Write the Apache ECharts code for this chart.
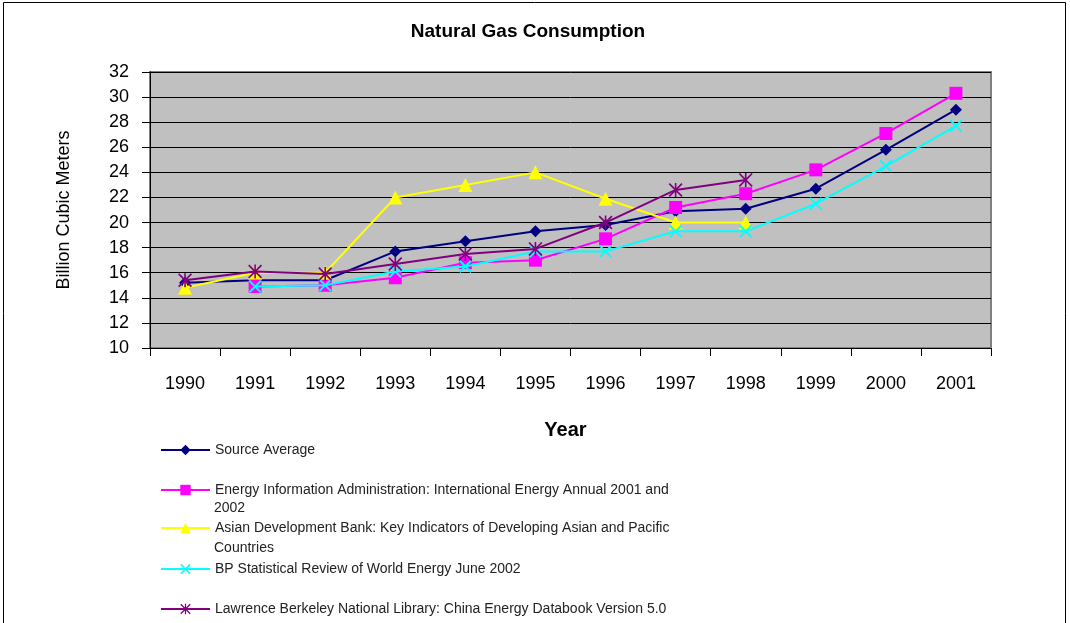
<!DOCTYPE html>
<html>
<head>
<meta charset="utf-8">
<script src="https://cdn.jsdelivr.net/npm/echarts@6/dist/echarts.min.js"></script>
<style>
html,body{margin:0;padding:0;background:#fff;}
#chart{width:1070px;height:623px;}
</style>
</head>
<body>
<div id="chart"></div>
<script>
// ---- data ----
const years = ['1990','1991','1992','1993','1994','1995','1996','1997','1998','1999','2000','2001'];
const sourceAverage = [15.2, 15.4, 15.4, 17.7, 18.5, 19.3, 19.8, 20.9, 21.1, 22.7, 25.8, 29.0];
const eiaValues     = [null, 14.9, 15.0, 15.6, 16.8, 17.0, 18.7, 21.2, 22.3, 24.2, 27.1, 30.3];
const adbValues     = [14.8, 16.0, 16.0, 22.0, 23.0, 24.0, 21.9, 20.0, 20.0, null, null, null];
const bpValues      = [null, 14.9, 15.0, 16.1, 16.5, 17.7, 17.7, 19.3, 19.3, 21.5, 24.5, 27.7];
const lblValues     = [15.4, 16.1, 15.9, 16.7, 17.5, 17.9, 20.0, 22.6, 23.4, null, null, null];
const yMin = 10, yMax = 32, yStep = 2;

const seriesNames = [
  'Source Average',
  'Energy Information Administration: International Energy Annual 2001 and 2002',
  'Asian Development Bank: Key Indicators of Developing Asian and Pacific Countries',
  'BP Statistical Review of World Energy June 2002',
  'Lawrence Berkeley National Library: China Energy Databook Version 5.0'
];
const legendLines = [
  ['Source Average'],
  ['Energy Information Administration: International Energy Annual 2001 and', '2002'],
  ['Asian Development Bank: Key Indicators of Developing Asian and Pacific', 'Countries'],
  ['BP Statistical Review of World Energy June 2002'],
  ['Lawrence Berkeley National Library: China Energy Databook Version 5.0']
];

// ---- styles ----
const FONT = '"Liberation Sans", Arial, sans-serif';
const colors = ['#000080', '#FF00FF', '#FFFF00', '#00FFFF', '#800080'];
const xPath = 'path://M0,1.5 L1.5,0 L7,5.5 L12.5,0 L14,1.5 L8.5,7 L14,12.5 L12.5,14 L7,8.5 L1.5,14 L0,12.5 L5.5,7 Z';
const starPath = 'path://M0,1.2 L1.2,0 L7,5.8 L12.8,0 L14,1.2 L8.2,7 L14,12.8 L12.8,14 L7,8.2 L1.2,14 L0,12.8 L5.8,7 Z M6.2,0 L7.8,0 L7.8,14 L6.2,14 Z';
const symbols = ['diamond', 'rect', 'triangle', xPath, starPath];
const symbolSizes = [12, 13, 14, 13, 14];
const dataSets = [sourceAverage, eiaValues, adbValues, bpValues, lblValues];
const legendCenters = [450, 490, 528, 569, 609];
const contLineY = {1: 508, 2: 548};

const chart = echarts.init(document.getElementById('chart'));

const series = dataSets.map((d, i) => ({
  name: seriesNames[i],
  type: 'line',
  data: d,
  symbol: symbols[i],
  symbolSize: symbolSizes[i],
  showAllSymbol: true,
  connectNulls: false,
  itemStyle: { color: colors[i], borderWidth: 0 },
  lineStyle: { color: colors[i], width: 2 },
  emphasis: { disabled: true },
  animation: false,
  z: 2 + i
}));

const legends = seriesNames.map((n, i) => ({
  data: [{ name: n }],
  orient: 'vertical',
  left: 160,
  top: legendCenters[i] - 7,
  padding: 0,
  itemWidth: 49,
  itemHeight: 13,
  selectedMode: false,
  formatter: () => legendLines[i][0],
  textStyle: { fontFamily: FONT, fontSize: 14, color: '#222' }
}));

const graphics = [
  { type: 'rect', silent: true, z: -1,
    shape: { x: 3.5, y: 2.5, width: 1062, height: 700 },
    style: { fill: 'none', stroke: '#000', lineWidth: 1 } }
];
Object.keys(contLineY).forEach(k => {
  graphics.push({
    type: 'text', silent: true,
    style: { text: legendLines[k][1], x: 214, y: contLineY[k], verticalAlign: 'middle',
             font: '14px ' + FONT, fill: '#222' }
  });
});

chart.setOption({
  animation: false,
  backgroundColor: '#fff',
  title: {
    text: 'Natural Gas Consumption',
    left: 523, top: 17, textAlign: 'center',
    textStyle: { fontFamily: FONT, fontWeight: 'bold', fontSize: 19, color: '#000' }
  },
  legend: legends,
  grid: {
    left: 150, right: 79, top: 72, bottom: 275,
    show: true, backgroundColor: '#C0C0C0', borderColor: '#808080', borderWidth: 2
  },
  xAxis: {
    type: 'category',
    data: years,
    boundaryGap: true,
    name: 'Year',
    nameLocation: 'middle',
    nameGap: 72,
    nameTextStyle: { fontFamily: FONT, fontWeight: 'bold', fontSize: 20, color: '#000', padding: [0, 10, 0, 0] },
    axisLine: { show: true, lineStyle: { color: '#000', width: 1 } },
    axisTick: { show: true, length: 8, inside: false, alignWithLabel: false, lineStyle: { color: '#000' } },
    axisLabel: { margin: 27, fontFamily: FONT, fontSize: 18, color: '#000' },
    splitLine: { show: false }
  },
  yAxis: {
    type: 'value',
    min: yMin, max: yMax, interval: yStep,
    name: 'Billion Cubic Meters',
    nameLocation: 'middle',
    nameRotate: 90,
    nameGap: 77,
    nameTextStyle: { fontFamily: FONT, fontSize: 18, color: '#000' },
    axisLine: { show: true, lineStyle: { color: '#000', width: 1 } },
    axisTick: { show: true, length: 8, inside: false, lineStyle: { color: '#000' } },
    axisLabel: { margin: 21, fontFamily: FONT, fontSize: 18, color: '#000' },
    splitLine: { show: true, lineStyle: { color: '#000', width: 1 } }
  },
  graphic: graphics,
  series: series
});
</script>
</body>
</html>
